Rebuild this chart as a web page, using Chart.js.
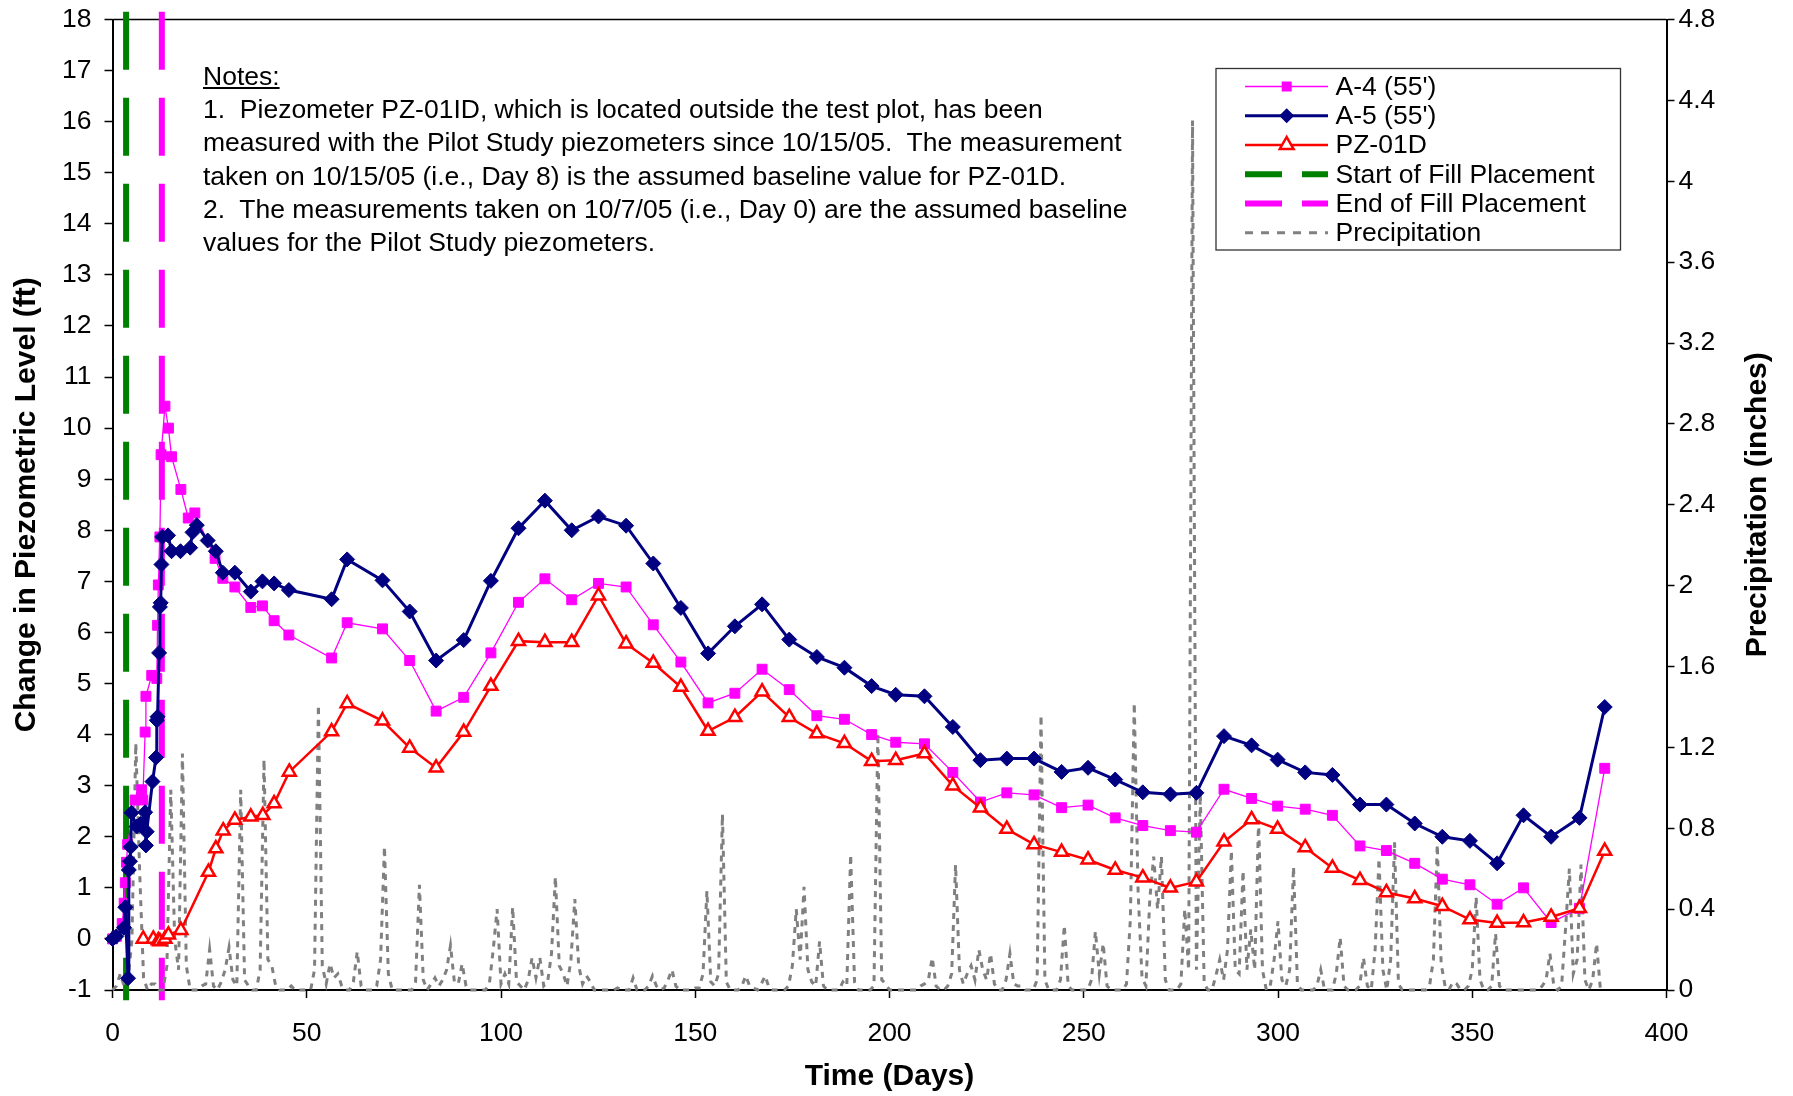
<!DOCTYPE html>
<html>
<head>
<meta charset="utf-8">
<script src="https://cdn.jsdelivr.net/npm/chart.js@4.4.1/dist/chart.umd.min.js"></script>
<style>
html,body{margin:0;padding:0;background:#fff;}
#wrap{position:relative;width:1793px;height:1096px;overflow:hidden;}
#c{position:absolute;left:0;top:0;}
#notes{position:absolute;left:203px;top:60px;font-family:"Liberation Sans",Arial,sans-serif;font-size:26.5px;line-height:33.2px;white-space:pre;color:#000;}
#notes u{text-decoration:underline;text-underline-offset:2px;}
</style>
</head>
<body>
<div id="wrap">
<canvas id="c" width="1793" height="1096"></canvas>
<div id="notes"><u>Notes:</u>
1.  Piezometer PZ-01ID, which is located outside the test plot, has been
measured with the Pilot Study piezometers since 10/15/05.  The measurement
taken on 10/15/05 (i.e., Day 8) is the assumed baseline value for PZ-01D.
2.  The measurements taken on 10/7/05 (i.e., Day 0) are the assumed baseline
values for the Pilot Study piezometers.</div>
</div>
<script>
// ---------------- DATA ----------------
const seriesLabels = ["A-4 (55')", "A-5 (55')", "PZ-01D", "Start of Fill Placement", "End of Fill Placement", "Precipitation"];
const xTitle = "Time (Days)";
const yTitle = "Change in Piezometric Level (ft)";
const y2Title = "Precipitation (inches)";

const weeklyDays = [69.5,76.5,83.3,90.4,97.4,104.5,111.3,118.2,125.1,132.2,
  139.2,146.3,153.3,160.2,167.2,174.2,181.3,188.4,195.4,201.6,
  209,216.3,223.4,230.2,237.2,244.3,251.1,258.1,265.2,272.3,
  279,286.1,293.2,299.9,307,314,321.1,327.9,335.2,342.3,
  349.4,356.4,363.2,370.3,377.6,384.1];

const a4EarlyDays = [0,1,2.5,3,3.3,3.6,3.9,5.8,7.5,7.8,8.4,8.6,10.1,11.4,11.6,11.8,12.2,12.5,13.5,14.4,15.2,17.6,19.5,21.2,26.4,28.4,31.5,35.6,38.6,41.6,45.4,56.4,60.4];
const a4EarlyVals = [0,0.05,0.3,0.7,1.1,1.5,1.85,2.72,2.92,2.72,4.05,4.75,5.16,5.1,6.14,6.93,7.87,9.48,10.43,10.0,9.44,8.8,8.24,8.34,7.45,7.06,6.89,6.49,6.52,6.23,5.95,5.5,6.19];
const a4WeeklyVals = [6.07,5.45,4.46,4.73,5.6,6.59,7.05,6.64,6.96,6.89,
  6.15,5.42,4.62,4.81,5.28,4.88,4.37,4.30,4.0,3.85,
  3.82,3.26,2.68,2.86,2.82,2.57,2.62,2.37,2.22,2.12,
  2.09,2.93,2.75,2.60,2.54,2.42,1.82,1.73,1.48,1.17,
  1.06,0.68,1.0,0.32,0.6,3.34];

const a5EarlyDays = [0,1,3,3.3,4,4.2,4.5,4.7,4.9,6.2,7.2,8.4,8.6,8.8,10.3,11.2,11.4,11.6,12.0,12.2,12.4,12.6,12.8,14.3,15.2,17.5,20.0,20.6,21.7,24.5,26.6,28.4,31.5,35.6,38.6,41.6,45.4,56.4,60.4];
const a5EarlyVals = [0,0.05,0.22,0.62,-0.77,1.35,1.52,1.8,2.47,2.2,2.25,2.48,1.83,2.1,3.08,3.55,4.28,4.35,5.6,6.5,6.58,7.33,7.87,7.9,7.59,7.59,7.66,7.96,8.1,7.8,7.59,7.17,7.17,6.8,7.0,6.96,6.83,6.65,7.43];
const a5WeeklyVals = [7.02,6.41,5.45,5.85,7.01,8.04,8.58,8.0,8.27,8.09,
  7.35,6.48,5.59,6.12,6.55,5.86,5.52,5.31,4.95,4.78,
  4.75,4.15,3.5,3.53,3.53,3.27,3.35,3.12,2.87,2.83,
  2.86,3.97,3.79,3.51,3.26,3.21,2.63,2.63,2.26,2.0,
  1.92,1.48,2.42,2.0,2.37,4.54];

const pzEarlyDays = [7.9,10.5,11.8,12.2,13.5,14.4,17.6,24.7,26.6,28.5,31.5,35.6,38.7,41.6,45.5,56.4,60.4];
const pzEarlyVals = [0,0,-0.03,-0.05,0,0.08,0.17,1.31,1.77,2.12,2.33,2.39,2.42,2.65,3.27,4.06,4.61];
const pzWeeklyVals = [4.27,3.74,3.35,4.05,4.95,5.83,5.81,5.81,6.72,5.78,
  5.40,4.93,4.07,4.34,4.84,4.34,4.02,3.83,3.48,3.50,
  3.63,3.0,2.57,2.15,1.85,1.70,1.55,1.35,1.20,1.0,
  1.12,1.90,2.34,2.15,1.79,1.39,1.15,0.91,0.79,0.64,
  0.38,0.31,0.32,0.43,0.6,1.72];

const fillStartDay = 3.5;
const fillEndDay = 12.7;
const fillLineRange = [18.15, -1.2];

// daily precipitation, inches, day 0 .. 383
const precipDaily = [
  0,0.02,0.08,0.02,0.05,0.25,1.22,0.58,0.06,0,
  0.03,0.03,0,0,0.12,0.99,0.25,0.1,1.17,0.12,
  0,0,0,0.02,0.03,0.2,0.02,0,0.04,0.1,
  0.21,0.05,0.02,0.99,0.05,0.02,0,0,0.1,1.14,
  0.15,0.12,0.02,0,0,0,0.02,0,0,0,
  0,0,0.1,1.41,0.12,0.03,0.13,0.06,0.08,0.02,
  0,0,0.04,0.19,0.02,0,0,0,0.02,0.15,
  0.71,0.08,0,0,0,0,0,0,0.04,0.52,
  0.05,0,0.03,0.06,0.02,0.05,0.1,0.22,0.04,0.03,
  0.13,0.02,0,0,0,0,0,0.03,0.2,0.4,
  0.03,0.08,0.03,0.41,0.04,0.02,0,0.05,0.16,0.06,
  0.16,0.02,0.04,0.18,0.56,0.12,0.08,0.02,0.15,0.45,
  0.12,0.03,0.07,0.04,0,0,0,0,0,0,
  0.01,0,0,0,0.06,0,0,0,0.02,0.07,
  0.02,0,0.01,0.05,0.1,0.02,0,0,0,0,
  0.01,0.01,0.08,0.49,0.04,0.02,0.08,0.87,0.04,0,
  0,0,0.02,0.07,0.02,0.01,0,0.03,0.07,0.01,
  0,0,0,0,0.02,0.12,0.4,0.15,0.51,0.1,
  0.04,0.02,0.24,0.02,0,0,0,0,0.04,0.02,
  0.67,0.04,0,0,0,0,0.02,1.27,0.05,0.03,
  0,0,0,0,0,0,0,0,0.02,0.03,
  0.05,0.16,0.02,0,0,0.02,0.08,0.62,0.1,0.03,
  0.08,0.12,0.05,0.2,0.1,0.05,0.18,0.03,0,0,
  0.05,0.18,0.03,0.02,0.02,0,0,0,0.05,1.36,
  0.05,0,0,0,0.05,0.32,0.02,0,0,0,
  0,0,0.05,0.29,0.08,0.23,0.02,0,0,0,
  0,0.03,0.35,1.42,0.48,0.06,0.02,0.45,0.66,0.4,
  0.66,0.05,0,0,0,0.03,0.4,0.1,4.3,0.1,
  0.97,0.03,0,0,0.07,0.15,0.05,0.2,0.69,0.1,
  0.08,0.59,0.1,0.3,0.1,0.84,0.1,0,0.02,0.15,
  0.34,0.05,0.02,0.1,0.61,0.03,0,0,0,0,
  0.02,0.1,0,0,0,0.08,0.26,0.02,0,0,
  0,0.02,0.16,0.02,0,0.2,0.65,0.1,0,0.15,
  0.73,0.03,0,0,0,0,0,0,0,0.02,
  0.15,0.72,0.13,0.02,0,0.04,0.03,0,0,0.02,
  0.1,0.46,0.05,0,0,0.02,0.28,0.02,0,0,
  0,0,0,0,0,0,0,0,0.02,0.05,
  0.18,0.02,0,0.02,0.3,0.6,0.08,0.15,0.62,0.05,
  0,0.05,0.23,0
];

const xTicks = {min: 0, max: 400, step: 50};
const yTicks = {min: -1, max: 18, step: 1};
const y2Ticks = {min: 0, max: 4.8, step: 0.4};

// ---------------- BUILD ----------------
const toPts = (xs, ys) => xs.map((x, i) => ({x, y: ys[i]}));
const a4Pts = toPts(a4EarlyDays.concat(weeklyDays), a4EarlyVals.concat(a4WeeklyVals));
const a5Pts = toPts(a5EarlyDays.concat(weeklyDays), a5EarlyVals.concat(a5WeeklyVals));
const pzPts = toPts(pzEarlyDays.concat(weeklyDays), pzEarlyVals.concat(pzWeeklyVals));
const precipPts = precipDaily.map((v, d) => ({x: d, y: v}));
const startPts = fillLineRange.map(y => ({x: fillStartDay, y}));
const endPts = fillLineRange.map(y => ({x: fillEndDay, y}));

const FONT = '"Liberation Sans", Arial, sans-serif';

const datasets = [
  {label: seriesLabels[0], data: a4Pts, yAxisID: 'y', order: 3, clip: false,
   borderColor: '#FF00FF', backgroundColor: '#FF00FF', borderWidth: 1.3,
   pointStyle: 'rect', pointRadius: 7, pointBorderWidth: 1, pointBorderColor: '#FF00FF', pointBackgroundColor: '#FF00FF',
   legendMarker: 'square'},
  {label: seriesLabels[1], data: a5Pts, yAxisID: 'y', order: 2, clip: false,
   borderColor: '#000080', backgroundColor: '#000080', borderWidth: 3,
   pointStyle: 'rectRot', pointRadius: 7.5, pointBorderWidth: 1, pointBorderColor: '#000080', pointBackgroundColor: '#000080',
   legendMarker: 'diamond'},
  {label: seriesLabels[2], data: pzPts, yAxisID: 'y', order: 1, clip: false,
   borderColor: '#FF0000', backgroundColor: '#FFFFFF', borderWidth: 2.5,
   pointStyle: 'triangle', pointRadius: 7.5, pointBorderWidth: 2.5, pointBorderColor: '#FF0000', pointBackgroundColor: '#FFFFFF',
   legendMarker: 'triangle'},
  {label: seriesLabels[3], data: startPts, yAxisID: 'y', order: 6, clip: false,
   borderColor: '#008000', borderWidth: 6, borderDash: [58, 28], pointRadius: 0,
   legendDash: [37, 20]},
  {label: seriesLabels[4], data: endPts, yAxisID: 'y', order: 5, clip: false,
   borderColor: '#FF00FF', borderWidth: 6, borderDash: [58, 28], pointRadius: 0,
   legendDash: [37, 20]},
  {label: seriesLabels[5], data: precipPts, yAxisID: 'y2', order: 4, clip: false,
   borderColor: '#808080', borderWidth: 3, borderDash: [6, 6], pointRadius: 0,
   legendDash: [8, 8], legendWidth: 3}
];
datasets.forEach(d => { d.showLine = true; d.tension = 0; d.fill = false; d.pointHoverRadius = d.pointRadius; });

function drawMarker(ctx, kind, x, y, ds) {
  ctx.save();
  ctx.beginPath();
  if (kind === 'square') {
    const s = 5;
    ctx.rect(x - s, y - s, 2 * s, 2 * s);
    ctx.fillStyle = ds.pointBackgroundColor; ctx.fill();
  } else if (kind === 'diamond') {
    const r = 7.5;
    ctx.moveTo(x, y - r); ctx.lineTo(x + r, y); ctx.lineTo(x, y + r); ctx.lineTo(x - r, y); ctx.closePath();
    ctx.fillStyle = ds.pointBackgroundColor; ctx.fill();
  } else if (kind === 'triangle') {
    const r = 8;
    ctx.moveTo(x, y - r);
    ctx.lineTo(x + r * 0.866, y + r * 0.5);
    ctx.lineTo(x - r * 0.866, y + r * 0.5);
    ctx.closePath();
    ctx.fillStyle = '#fff'; ctx.fill();
    ctx.lineWidth = ds.pointBorderWidth; ctx.strokeStyle = ds.pointBorderColor; ctx.stroke();
  }
  ctx.restore();
}

const framePlugin = {
  id: 'frame',
  beforeDatasetsDraw(chart) {
    const {ctx, chartArea: a} = chart;
    ctx.save();
    ctx.strokeStyle = '#000'; ctx.lineWidth = 1.5;
    ctx.beginPath(); ctx.moveTo(a.left, a.top); ctx.lineTo(a.right, a.top); ctx.stroke();
    ctx.restore();
  },
  afterDraw(chart) {
    const {ctx, chartArea: a} = chart;
    // right axis title (reads bottom-to-top)
    ctx.save();
    ctx.translate(a.right + 91, (a.top + a.bottom) / 2);
    ctx.rotate(-Math.PI / 2);
    ctx.font = 'bold 30px ' + FONT;
    ctx.fillStyle = '#000'; ctx.textAlign = 'center'; ctx.textBaseline = 'middle';
    ctx.fillText(y2Title, 0, 0);
    ctx.restore();

    // legend
    const bx = 1216, by = 68.5, bw = 404.5, bh = 181.5;
    ctx.save();
    ctx.fillStyle = '#fff'; ctx.fillRect(bx, by, bw, bh);
    ctx.strokeStyle = '#333'; ctx.lineWidth = 1.3; ctx.strokeRect(bx, by, bw, bh);
    chart.data.datasets.forEach((ds, i) => {
      const y = 86.5 + i * 29.25;
      ctx.save();
      ctx.beginPath();
      ctx.strokeStyle = ds.borderColor;
      ctx.lineWidth = ds.legendWidth || ds.borderWidth;
      ctx.setLineDash(ds.legendDash || []);
      ctx.moveTo(1245, y); ctx.lineTo(1328, y); ctx.stroke();
      ctx.restore();
      if (ds.legendMarker) drawMarker(ctx, ds.legendMarker, 1286.7, y, ds);
      ctx.fillStyle = '#000';
      ctx.font = '26.5px ' + FONT;
      ctx.textAlign = 'left'; ctx.textBaseline = 'middle';
      ctx.fillText(ds.label, 1335.5, y + 1);
    });
    ctx.restore();
  }
};

const xTickFont = {family: FONT, size: 26.5};
const yTickFont = {family: FONT, size: 26.5, lineHeight: 0.4};
const titleFont = {family: FONT, size: 30, weight: 'bold'};

new Chart(document.getElementById('c'), {
  type: 'scatter',
  data: {datasets},
  options: {
    responsive: false,
    animation: false,
    events: [],
    layout: {padding: {top: 19.5, left: 0, right: 0, bottom: 0}},
    plugins: {legend: {display: false}, tooltip: {enabled: false}},
    scales: {
      x: {
        type: 'linear', position: 'bottom', min: xTicks.min, max: xTicks.max,
        ticks: {stepSize: xTicks.step, font: xTickFont, color: '#000', padding: 20, maxRotation: 0},
        grid: {drawOnChartArea: false, drawTicks: true, tickLength: 8, tickColor: '#000', tickWidth: 1.5},
        border: {display: true, color: '#000', width: 2},
        title: {display: true, text: xTitle, font: titleFont, color: '#000', padding: {top: 0, bottom: 1}},
        afterFit: s => { s.height = 106; }
      },
      y: {
        type: 'linear', position: 'left', min: yTicks.min, max: yTicks.max,
        ticks: {stepSize: yTicks.step, font: yTickFont, color: '#000', padding: 13},
        grid: {drawOnChartArea: false, drawTicks: true, tickLength: 8, tickColor: '#000', tickWidth: 1.5},
        border: {display: true, color: '#000', width: 2},
        title: {display: true, text: yTitle, font: titleFont, color: '#000', padding: {top: 9, bottom: 0}},
        afterFit: s => { s.width = 112.5; }
      },
      y2: {
        type: 'linear', position: 'right', min: y2Ticks.min, max: y2Ticks.max,
        ticks: {stepSize: y2Ticks.step, font: yTickFont, color: '#000', padding: 4,
                callback: v => String(Math.round(v * 10) / 10)},
        grid: {drawOnChartArea: false, drawTicks: true, tickLength: 8, tickColor: '#000', tickWidth: 1.5},
        border: {display: true, color: '#000', width: 2},
        title: {display: false},
        afterFit: s => { s.width = 126.5; }
      }
    }
  },
  plugins: [framePlugin]
});
</script>
</body>
</html>
